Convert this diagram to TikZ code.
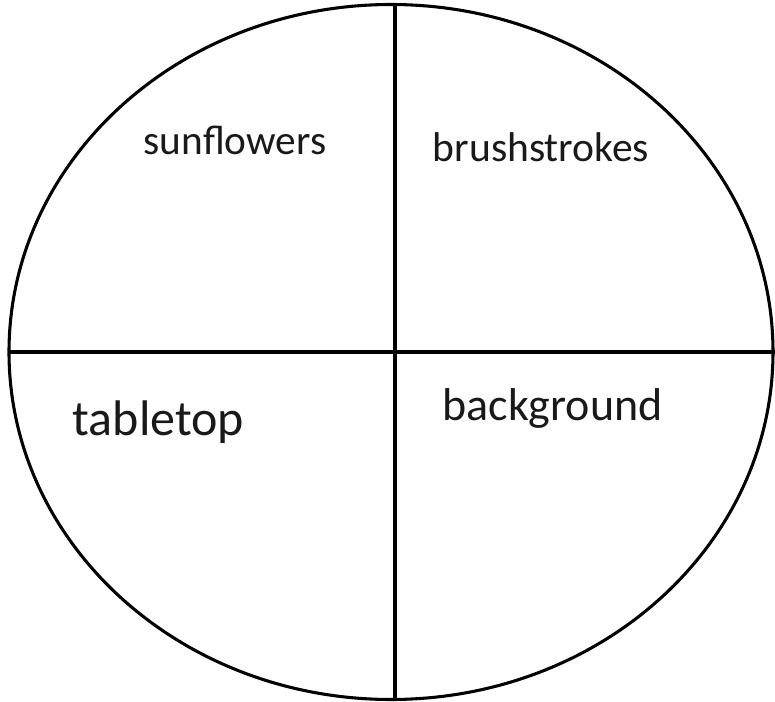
\documentclass[tikz,border=0pt]{standalone}
\usepackage{fontspec}
\setmainfont{Carlito}
\begin{document}
\begin{tikzpicture}[x=0.75pt,y=-0.75pt]
\tikzset{
  divline/.style={line width=2.3pt, black},
  lbl/.style={anchor=base, inner sep=0pt, text=black!90}
}
\useasboundingbox (0,0) rectangle (775,702);
\coordinate (top) at (395,4);
\coordinate (bot) at (395,699);
\coordinate (lft) at (9,352);
\coordinate (rgt) at (775,352);
\draw[divline] (391,352) ellipse [x radius=382, y radius=347.5];
\draw[divline] (top) -- (bot);
\draw[divline] (lft) -- (rgt);
\node[lbl, font=\fontsize{31}{36}\selectfont] (sun) at (235,155) {sunflowers};
\node[lbl, font=\fontsize{31.2}{36}\selectfont] (brush) at (541,162) {brushstrokes};
\node[lbl, font=\fontsize{37.5}{44}\selectfont] (table) at (158.5,435) {tabletop};
\node[lbl, font=\fontsize{34.5}{40}\selectfont] (back) at (552.5,420) {background};
\end{tikzpicture}
\end{document}
